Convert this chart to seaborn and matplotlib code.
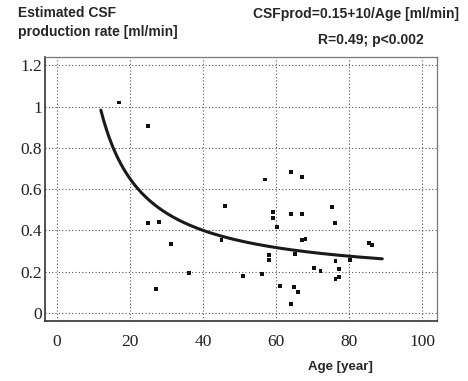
import numpy as np
import pandas as pd
import matplotlib
matplotlib.use("Agg")
import matplotlib.pyplot as plt
import seaborn as sns

# -----------------------------
# Data
# -----------------------------
age = [17, 24.8, 25, 28, 31.1, 46, 45, 27, 36.2,
       57, 64, 67, 59.1, 59.1, 60.1, 64, 67, 75.2, 76.1,
       67, 68, 85.3, 86.1, 51, 56, 58.1, 58.1, 61, 64.9,
       65, 66, 64.1, 70.2, 72.1, 76.2, 77.1, 76.2, 77.1, 80.2]
csf_rate = [1.02, 0.906, 0.436, 0.44, 0.333, 0.52, 0.352, 0.118, 0.192,
            0.647, 0.683, 0.659, 0.488, 0.46, 0.418, 0.479, 0.481, 0.515, 0.434,
            0.352, 0.357, 0.337, 0.331, 0.181, 0.187, 0.279, 0.255, 0.132, 0.126,
            0.286, 0.10, 0.045, 0.219, 0.205, 0.25, 0.213, 0.165, 0.176, 0.257]

# fitted model from the title: CSFprod = a + b / Age
fit_a = 0.15
fit_b = 10.0
fit_range = (12, 89)

points = pd.DataFrame({"age": age, "rate": csf_rate})
fit_age = np.linspace(fit_range[0], fit_range[1], 200)
fit = pd.DataFrame({"age": fit_age, "rate": fit_a + fit_b / fit_age})

# -----------------------------
# Plot
# -----------------------------
sns.set_style("white")
plt.rcParams["font.family"] = ["Liberation Sans", "DejaVu Sans"]

fig = plt.figure(figsize=(4.68, 3.81), dpi=100)
ax = fig.add_axes([0.096, 0.157, 0.838, 0.693])

sns.lineplot(data=fit, x="age", y="rate", color="#1a1a1a", linewidth=2.2, ax=ax)
sns.scatterplot(data=points, x="age", y="rate", marker="s", s=8,
                color="#111111", edgecolor="none", ax=ax, zorder=3)

ax.set_xlim(-3.3, 104)
ax.set_ylim(-0.04, 1.24)
ax.set_xticks([0, 20, 40, 60, 80, 100])
ax.set_yticks([0, 0.2, 0.4, 0.6, 0.8, 1, 1.2])
ax.set_yticklabels(["0", "0.2", "0.4", "0.6", "0.8", "1", "1.2"])
ax.grid(True, color="#555555", linestyle=(0, (1, 2)), linewidth=0.8)
ax.set_xlabel("")
ax.set_ylabel("")

ax.tick_params(axis="both", direction="in", length=4, width=0.8,
               labelsize=12.5, colors="#222222")
ax.tick_params(axis="x", pad=9)
ax.tick_params(axis="y", pad=2)
for lab in ax.get_xticklabels() + ax.get_yticklabels():
    lab.set_family("Liberation Serif")

for side in ["left", "bottom"]:
    ax.spines[side].set_color("#333333")
    ax.spines[side].set_linewidth(1.2)
for side in ["top", "right"]:
    ax.spines[side].set_color("#777777")
    ax.spines[side].set_linewidth(0.9)

fig.text(18 / 468, 1 - 6 / 381, "Estimated CSF\nproduction rate [ml/min]",
         ha="left", va="top", fontsize=10, fontweight="bold", linespacing=1.45)
fig.text(459 / 468, 1 - 14 / 381, "CSFprod=0.15+10/Age [ml/min]",
         ha="right", va="center", fontsize=10, fontweight="bold")
fig.text(371 / 468, 1 - 40 / 381, "R=0.49; p<0.002",
         ha="center", va="center", fontsize=10, fontweight="bold")
fig.text(340 / 468, 1 - 367 / 381, "Age [year]",
         ha="center", va="center", fontsize=9.5, fontweight="bold")

plt.savefig("out.png", dpi=100)
plt.close()
